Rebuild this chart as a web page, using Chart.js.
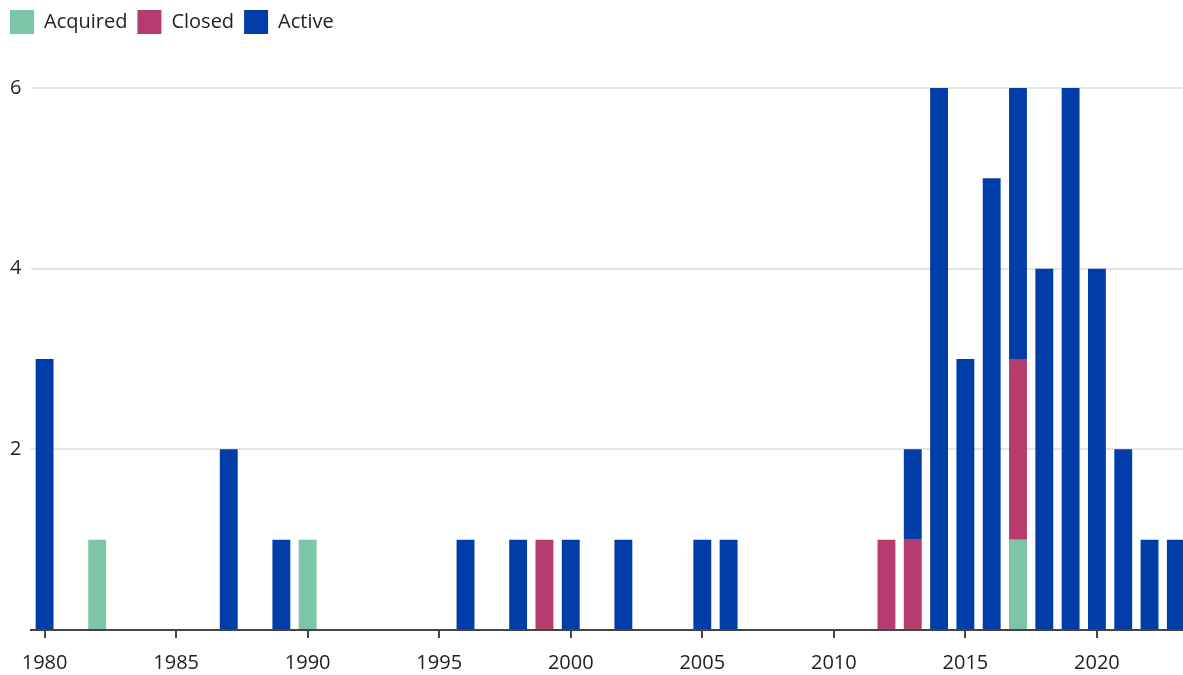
<!DOCTYPE html>
<html>
<head>
<meta charset="utf-8">
<script src="https://cdn.jsdelivr.net/npm/chart.js@4.4.1/dist/chart.umd.min.js"></script>
<style>
  html, body { margin: 0; padding: 0; background: #fff; overflow: hidden; }
  #wrap { position: relative; width: 1190px; height: 675px; }
</style>
</head>
<body>
<div id="wrap"><canvas id="chart"></canvas></div>
<script>
// years 1980..2023
const years = [];
for (let y = 1980; y <= 2023; y++) years.push(String(y));

// counts per year
const acquiredByYear = { 1982: 1, 1990: 1, 2017: 1 };
const closedByYear = { 1999: 1, 2012: 1, 2013: 1, 2017: 2 };
const activeByYear = {
    1980: 3, 1987: 2, 1989: 1, 1996: 1, 1998: 1, 2000: 1, 2002: 1, 2005: 1, 2006: 1,
    2013: 1, 2014: 6, 2015: 3, 2016: 5, 2017: 3, 2018: 4, 2019: 6, 2020: 4, 2021: 2,
    2022: 1, 2023: 1
};

const yTicks = [2, 4, 6];

const acquired = years.map(y => acquiredByYear[y] || 0);
const closed = years.map(y => closedByYear[y] || 0);
const active = years.map(y => activeByYear[y] || 0);

const FONT = "'Open Sans', Lato, sans-serif";
const TEXT = "#222";

// push the plot down below the legend
const legendSpacer = {
    id: "legendSpacer",
    beforeInit(chart) {
        const fit = chart.legend.fit;
        chart.legend.fit = function () {
            fit.bind(chart.legend)();
            this.height += 44;
        };
    },
};

const canvas = document.getElementById("chart");
const chart = new Chart(canvas, {
    type: "bar",
    data: {
        labels: years,
        datasets: [
            { label: "Acquired", data: acquired, backgroundColor: "#7cc5a7" },
            { label: "Closed", data: closed, backgroundColor: "#b83b6d" },
            { label: "Active", data: active, backgroundColor: "#003da8" },
        ],
    },
    plugins: [legendSpacer],
    options: {
        responsive: true,
        maintainAspectRatio: false,
        animation: false,
        layout: { padding: { left: 0, right: 1, top: 0, bottom: 0 } },
        datasets: {
            bar: { barPercentage: 0.68, categoryPercentage: 1, borderWidth: 0 },
        },
        plugins: {
            legend: {
                position: "top",
                align: "start",
                labels: {
                    boxWidth: 24,
                    boxHeight: 24,
                    padding: 10,
                    color: TEXT,
                    font: { family: FONT, size: 20 },
                },
            },
            tooltip: { enabled: false },
        },
        scales: {
            x: {
                stacked: true,
                offset: true,
                afterFit: axis => { axis.height = 45; },
                border: { display: true, color: "#444", width: 2 },
                grid: {
                    offset: false,
                    drawOnChartArea: false,
                    drawTicks: true,
                    tickLength: 8,
                    color: "#444",
                    lineWidth: 2,
                },
                ticks: {
                    autoSkip: false,
                    maxRotation: 0,
                    padding: 13,
                    color: TEXT,
                    font: { family: FONT, size: 20 },
                    callback: function (value) {
                        const lbl = this.getLabelForValue(value);
                        return Number(lbl) % 5 === 0 ? lbl : null;
                    },
                },
            },
            y: {
                stacked: true,
                min: 0,
                max: 6,
                border: { display: false },
                grid: {
                    drawTicks: false,
                    color: ctx => (ctx.tick && ctx.tick.value === 0 ? "rgba(0,0,0,0)" : "#e6e6e6"),
                    lineWidth: 2,
                },
                afterBuildTicks: axis => {
                    axis.ticks = [0].concat(yTicks).map(v => ({ value: v }));
                },
                ticks: {
                    padding: 10,
                    color: TEXT,
                    font: { family: FONT, size: 20 },
                    callback: v => (v === 0 ? "" : v),
                },
            },
        },
    },
});
</script>
</body>
</html>
